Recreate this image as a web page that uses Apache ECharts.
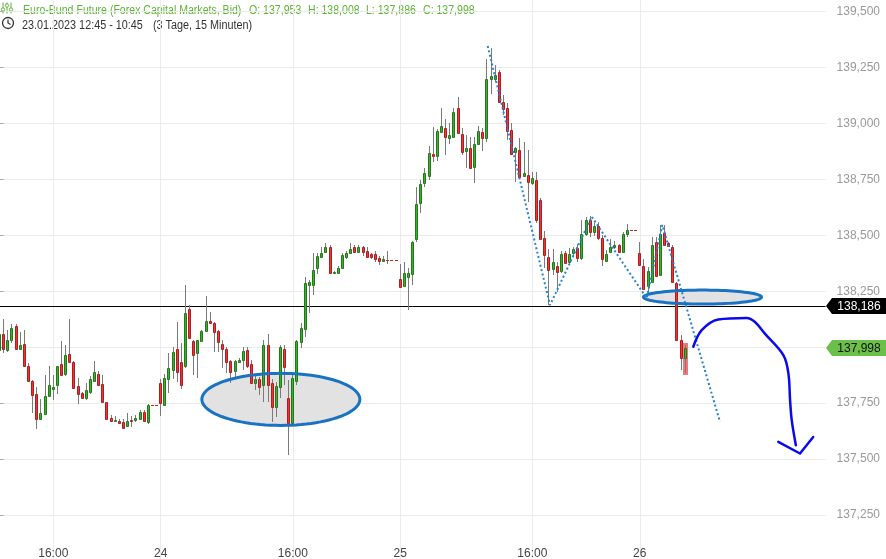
<!DOCTYPE html>
<html><head><meta charset="utf-8">
<script src="https://cdn.jsdelivr.net/npm/echarts@6/dist/echarts.min.js"></script>
<style>html,body{margin:0;padding:0;background:#fff;}#c{width:886px;height:559px;}</style>
</head><body><div id="c"></div>
<script>
// trading sessions (day, first candle, last slot) - 15 minute candles
const sessions = [['23','12:45','22:15'],['24','08:00','22:15'],['25','08:00','22:15'],['26','08:00','19:15']];

const opens = [137.987,138.061,137.989,138.034,138.094,137.992,138.013,137.914,137.847,137.793,
137.679,137.703,137.784,137.814,137.833,137.923,137.882,137.969,137.933,137.827,
137.797,137.775,137.800,137.849,137.882,137.835,137.754,137.682,137.670,137.672,
137.666,137.647,137.674,137.674,137.680,137.712,137.666,137.744,137.744,137.838,
137.744,137.858,137.900,137.994,137.934,137.916,138.169,138.030,137.972,138.028,
138.073,138.115,138.110,138.072,138.013,137.990,137.937,137.894,137.936,137.945,
137.987,137.923,137.842,137.860,137.833,138.012,137.838,137.733,137.822,137.994,
137.775,137.661,137.849,138.024,138.082,138.279,138.280,138.352,138.404,138.426,
138.446,138.330,138.332,138.355,138.404,138.419,138.446,138.426,138.449,138.429,
138.417,138.416,138.397,138.385,138.388,138.388,138.388,138.307,138.274,138.312,
138.325,138.482,138.643,138.732,138.766,138.862,138.856,138.963,138.978,138.936,
138.941,139.067,138.951,138.878,138.889,138.806,138.906,138.960,138.936,139.199,
139.199,139.228,139.094,139.067,138.970,138.873,138.881,138.766,138.769,138.732,
138.747,138.660,138.486,138.404,138.349,138.365,138.340,138.419,138.381,138.419,
138.444,138.397,138.504,138.568,138.516,138.541,138.486,138.386,138.426,138.446,
138.456,138.426,138.505,138.526,138.526,138.419,138.362,138.274,138.292,138.471,
138.322,138.511,138.464,138.446,138.288,138.031,137.953];

const highs = [138.080,138.128,138.076,138.103,138.103,138.067,138.076,137.930,137.852,137.822,
137.769,137.875,137.915,137.875,137.916,138.028,138.009,138.128,137.937,137.864,
137.800,137.838,137.870,137.939,137.894,137.875,137.756,137.697,137.692,137.678,
137.679,137.704,137.692,137.695,137.720,137.718,137.748,137.744,137.744,137.857,
137.879,137.975,138.000,138.112,138.019,138.277,138.188,138.034,138.034,138.078,
138.228,138.157,138.113,138.078,138.031,138.000,137.942,137.942,137.950,138.001,
138.000,137.942,137.875,137.867,138.031,138.061,137.860,137.845,138.009,138.009,
137.852,137.880,138.031,138.106,138.314,138.300,138.419,138.419,138.446,138.464,
138.455,138.340,138.362,138.421,138.431,138.464,138.455,138.455,138.453,138.449,
138.422,138.431,138.407,138.407,138.429,138.388,138.388,138.371,138.383,138.356,
138.473,138.714,138.747,138.799,138.899,138.985,138.976,139.067,139.018,139.000,
139.067,139.119,138.978,138.948,138.940,138.938,138.988,138.978,139.288,139.336,
139.261,139.239,139.127,139.090,139.003,138.896,138.933,138.918,138.881,138.784,
138.784,138.665,138.520,138.441,138.441,138.381,138.430,138.430,138.444,138.446,
138.461,138.568,138.583,138.586,138.557,138.560,138.501,138.433,138.482,138.473,
138.463,138.517,138.550,138.526,138.526,138.468,138.392,138.359,138.493,138.491,
138.546,138.546,138.470,138.455,138.291,138.054,138.008];

const lows = [137.975,137.972,137.980,138.017,137.989,137.987,137.915,137.845,137.706,137.636,
137.674,137.700,137.781,137.766,137.790,137.875,137.872,137.930,137.815,137.748,
137.770,137.763,137.790,137.845,137.826,137.751,137.678,137.670,137.664,137.655,
137.637,137.643,137.643,137.666,137.674,137.669,137.659,137.744,137.744,137.691,
137.740,137.794,137.857,137.845,137.815,137.905,138.039,137.875,137.863,138.024,
138.068,138.109,137.979,137.979,137.905,137.887,137.838,137.860,137.932,137.897,
137.905,137.838,137.808,137.785,137.755,137.755,137.666,137.688,137.771,137.830,
137.517,137.657,137.830,137.997,138.046,138.153,138.233,138.325,138.401,138.422,
138.329,138.327,138.327,138.352,138.393,138.416,138.422,138.422,138.407,138.401,
138.392,138.381,138.367,138.380,138.374,138.388,138.388,138.263,138.269,138.165,
138.277,138.471,138.601,138.714,138.747,138.829,138.832,138.956,138.859,138.908,
138.938,138.956,138.859,138.799,138.799,138.735,138.903,138.877,138.918,139.131,
139.187,139.090,139.036,138.926,138.859,138.739,138.759,138.759,138.650,138.725,
138.553,138.478,138.356,138.188,138.322,138.247,138.330,138.371,138.371,138.405,
138.379,138.389,138.496,138.491,138.496,138.478,138.362,138.379,138.422,138.437,
138.422,138.422,138.491,138.526,138.526,138.362,138.255,138.240,138.285,138.316,
138.318,138.456,138.450,138.288,138.030,137.897,137.886];

const closes = [138.061,137.991,138.031,138.088,137.992,138.012,137.916,137.847,137.788,137.681,
137.708,137.784,137.829,137.824,137.914,137.878,137.963,137.932,137.818,137.793,
137.775,137.808,137.857,137.888,137.833,137.755,137.681,137.670,137.674,137.661,
137.641,137.672,137.670,137.684,137.712,137.672,137.744,137.744,137.744,137.751,
137.864,137.905,137.978,137.890,137.833,138.155,138.043,137.967,138.031,138.072,
138.115,138.109,138.068,138.024,137.994,137.932,137.890,137.937,137.945,137.982,
137.918,137.842,137.856,137.822,138.008,137.833,137.733,137.826,137.999,137.912,
137.661,137.864,138.027,138.084,138.285,138.291,138.347,138.407,138.422,138.449,
138.332,138.337,138.356,138.411,138.422,138.441,138.426,138.446,138.426,138.404,
138.404,138.394,138.385,138.392,138.388,138.388,138.388,138.267,138.330,138.330,
138.468,138.640,138.728,138.777,138.866,138.854,138.967,138.988,138.941,138.948,
139.050,138.958,138.873,138.889,138.802,138.906,138.966,138.936,139.199,139.212,
139.217,139.094,139.063,138.967,138.863,138.889,138.762,138.777,138.739,138.754,
138.568,138.482,138.411,138.344,138.379,138.337,138.415,138.377,138.415,138.437,
138.397,138.508,138.568,138.516,138.541,138.486,138.392,138.415,138.446,138.456,
138.426,138.505,138.526,138.526,138.526,138.367,138.262,138.340,138.459,138.318,
138.508,138.459,138.453,138.292,138.034,137.954,137.998];

// horizontal level and last price
const levelPrice = 138.186;
const lastPrice = 137.998;
// drawn annotations, in (candle index, price) units
const trendIdx = [118.18, 133.27, 143.37, 156.68, 160.46, 174.43];
const trendPrice = [139.346, 138.188, 138.583, 138.219, 138.546, 137.666];
const arrowIdx = [167.97, 170.0, 174.0, 180.9, 182.9, 185.3, 189.8, 191.0, 191.4, 191.8, 192.8];
const arrowPrice = [138.002, 138.076, 138.124, 138.131, 138.113, 138.061, 137.964, 137.882, 137.763, 137.674, 137.562];
const headIdx = [188.55, 193.8, 197.0];
const headPrice = [137.577, 137.525, 137.599];
const ellipseCx = [68.1, 170.2];
const ellipseCy = [137.767, 138.224];
const ellipseRx = [19.13, 14.29];
const ellipseRy = [0.1163, 0.0313];

function pad(t){const h=Math.floor(t/60),m=t%60;return (h<10?'0':'')+h+':'+(m<10?'0':'')+m;}
function toMin(s){const a=s.split(':').map(Number);return a[0]*60+a[1];}
const categories = [];
sessions.forEach(([d,s,e])=>{for(let t=toMin(s);t<=toMin(e);t+=15){categories.push(d+' '+pad(t));}});
const nSlots = categories.length - 1;

function xLabel(v){const p=v.split(' ');if(p[1]==='16:00'&&p[0]!=='26')return '16:00';if(p[1]==='08:00'&&p[0]!=='23')return p[0];return '';}
const showTick = (i, v) => xLabel(categories[i]) !== '';
const fmt = v => v.toFixed(3).replace('.', ',');

const candleData = opens.map((o,i)=>[i,o,highs[i],lows[i],closes[i]]);
const lastIdx = opens.length - 1;

function renderCandle(params, api){
  const i=api.value(0),o=api.value(1),h=api.value(2),l=api.value(3),c=api.value(4);
  const pO=api.coord([i,o]), pC=api.coord([i,c]), pH=api.coord([i,h]), pL=api.coord([i,l]);
  const k=Math.floor(pO[0]);
  const up=c>o, flat=c===o;
  const fill=up?'#3dae2f':'#e6373b';
  const stroke=up?'#24781b':'#b01d21';
  const ch=[];
  const yH=Math.round(pH[1]), yL=Math.round(pL[1]);
  if(params.dataIndex===lastIdx){
    ch.push({type:'rect',shape:{x:k-2,y:yH-2,width:5,height:yL-yH+4},style:{fill:'#f07878'}});
  }
  if(yL>yH) ch.push({type:'line',shape:{x1:k+0.5,y1:yH,x2:k+0.5,y2:yL},style:{stroke:'#7a7a7a',lineWidth:1}});
  if(flat){
    const y=Math.round(pO[1])+0.5;
    ch.push({type:'line',shape:{x1:k-1,y1:y,x2:k+2,y2:y},style:{stroke:'#c62828',lineWidth:1}});
  } else {
    let yT=Math.round(Math.min(pO[1],pC[1])), yB=Math.round(Math.max(pO[1],pC[1]));
    if(yB-yT<1) yB=yT+1;
    ch.push({type:'rect',shape:{x:k-0.5,y:yT+0.5,width:2,height:yB-yT},style:{fill:fill,stroke:stroke,lineWidth:1}});
  }
  return {type:'group',children:ch};
}

function ellipsePoints(api, j){
  const pts=[];
  for(let s=0;s<96;s++){
    const a=2*Math.PI*s/96;
    pts.push(api.coord([ellipseCx[j]+ellipseRx[j]*Math.cos(a), ellipseCy[j]+ellipseRy[j]*Math.sin(a)]));
  }
  return pts;
}

const chart = echarts.init(document.getElementById('c'), null, {renderer:'canvas'});
const green = '#5fb336';
const hdrFont = '12.5px "Liberation Sans", Arial, sans-serif';
function hdrText(x, y, text, color, sx){
  return {type:'text', x:x, y:y, scaleX:sx, scaleY:1,
    style:{text:text, x:0, y:0, fill:color, font:hdrFont, textVerticalAlign:'middle', verticalAlign:'middle'}};
}
const option = {
  animation:false,
  textStyle:{fontFamily:'"Liberation Sans", Arial, sans-serif'},
  grid:{left:-0.4, right:60.4, top:-44.4, height:615.4, containLabel:false, outerBoundsMode:'none'},
  xAxis:[
    {type:'category', data:categories, boundaryGap:false,
     axisLine:{show:false}, axisTick:{show:false},
     axisLabel:{inside:true, margin:11, interval:showTick, formatter:xLabel, color:'#444', fontSize:12},
     splitLine:{show:true, interval:showTick, lineStyle:{color:'#ebebeb', width:1}}},
    {type:'value', min:0, max:nSlots, show:false}
  ],
  yAxis:{type:'value', position:'right', min:137, max:139.75, interval:0.25,
    axisLine:{show:true, lineStyle:{color:'#d6d6d6'}},
    axisTick:{show:true, length:4, lineStyle:{color:'#aaa'}},
    axisLabel:{color:'#999', fontSize:12, margin:11, formatter:fmt},
    splitLine:{show:true, lineStyle:{color:'#ebebeb'}}},
  series:[
    {type:'custom', name:'ellipseFill', xAxisIndex:1, z:1, data:ellipseCx.map((x,j)=>[x, ellipseCy[j]]),
     renderItem:(params,api)=>({type:'polygon', shape:{points:ellipsePoints(api, params.dataIndex)}, style:{fill:'#e2e2e2'}})},
    {type:'custom', name:'level', xAxisIndex:1, z:1, data:[[0, levelPrice]],
     renderItem:(params,api)=>{const a=api.coord([0,api.value(1)]), b=api.coord([nSlots,api.value(1)]); const y=Math.round(a[1])+0.5;
       return {type:'line', shape:{x1:0,y1:y,x2:b[0],y2:y}, style:{stroke:'#000', lineWidth:1}};}},
    {type:'custom', name:'candles', xAxisIndex:0, z:2, data:candleData, encode:{x:0, y:[1,2,3,4]}, renderItem:renderCandle},
    {type:'custom', name:'ellipseStroke', xAxisIndex:1, z:3, data:ellipseCx.map((x,j)=>[x, ellipseCy[j]]),
     renderItem:(params,api)=>({type:'polygon', shape:{points:ellipsePoints(api, params.dataIndex)}, style:{fill:'none', stroke:'#1a72c2', lineWidth:3}})},
    {type:'line', name:'trend', xAxisIndex:1, z:4, symbol:'none', data:trendIdx.map((x,j)=>[x,trendPrice[j]]),
     lineStyle:{color:'#2183d4', width:2, type:[2,2.5], cap:'butt'}},
    {type:'line', name:'arrow', xAxisIndex:1, z:4, symbol:'none', smooth:0.35, data:arrowIdx.map((x,j)=>[x,arrowPrice[j]]),
     lineStyle:{color:'#0a0af0', width:2.5, cap:'round', join:'round'}},
    {type:'line', name:'arrowHead', xAxisIndex:1, z:4, symbol:'none', data:headIdx.map((x,j)=>[x,headPrice[j]]),
     lineStyle:{color:'#0a0af0', width:2.5, cap:'round', join:'round'}},
    {type:'custom', name:'tags', xAxisIndex:1, z:5, clip:false, data:[[nSlots, levelPrice, 0],[nSlots, lastPrice, 1]],
     renderItem:(params,api)=>{
       const p=api.coord([nSlots, api.value(1)]); const x0=Math.round(p[0]); const y=Math.round(p[1]);
       const W=api.getWidth(); const dark=api.value(2)===0;
       return {type:'group', children:[
         {type:'polygon', shape:{points:[[x0,y],[x0+6,y-8],[W,y-8],[W,y+8],[x0+6,y+8]]}, style:{fill:dark?'#000':'#6cc04a'}},
         {type:'text', style:{text:fmt(api.value(1)), x:x0+33, y:y+0.5, fill:dark?'#fff':'#111', font:'12px "Liberation Sans", Arial, sans-serif', align:'center', verticalAlign:'middle', textAlign:'center', textVerticalAlign:'middle'}}
       ]};
     }}
  ],
  graphic:[
    {type:'group', left:0, top:0, children:[
      {type:'line', shape:{x1:5.5,y1:5,x2:5.5,y2:16}, style:{stroke:green, lineWidth:1}},
      {type:'line', shape:{x1:9.5,y1:5,x2:9.5,y2:16}, style:{stroke:green, lineWidth:1}},
      {type:'line', shape:{x1:13.5,y1:5,x2:13.5,y2:16}, style:{stroke:green, lineWidth:1}},
      {type:'circle', shape:{cx:5.5,cy:12,r:1.7}, style:{fill:'#fff', stroke:green, lineWidth:1}},
      {type:'circle', shape:{cx:9.5,cy:8,r:1.7}, style:{fill:'#fff', stroke:green, lineWidth:1}},
      {type:'circle', shape:{cx:13.5,cy:12,r:1.7}, style:{fill:'#fff', stroke:green, lineWidth:1}},
      {type:'circle', shape:{cx:10.5,cy:25.5,r:5.5}, style:{fill:'none', stroke:'#333', lineWidth:1.3}},
      {type:'polyline', shape:{points:[[10.5,22],[10.5,25.5],[13,27]]}, style:{fill:'none', stroke:'#333', lineWidth:1.2}}
    ]},
    hdrText(23, 11, 'Euro-Bund Future (Forex Capital Markets, Bid)', green, 0.845),
    hdrText(249, 11, 'O: 137,953', green, 0.845),
    hdrText(308, 11, 'H: 138,008', green, 0.845),
    hdrText(366, 11, 'L: 137,886', green, 0.845),
    hdrText(423, 11, 'C: 137,998', green, 0.845),
    hdrText(22, 26, '23.01.2023 12:45 - 10:45', '#333', 0.865),
    hdrText(153, 26, '(3 Tage, 15 Minuten)', '#333', 0.865)
  ]
};
if (highs.length!==opens.length||lows.length!==opens.length||closes.length!==opens.length) {
  throw new Error('length mismatch '+opens.length+' '+highs.length+' '+lows.length+' '+closes.length);
}
chart.setOption(option);
</script>
</body></html>
